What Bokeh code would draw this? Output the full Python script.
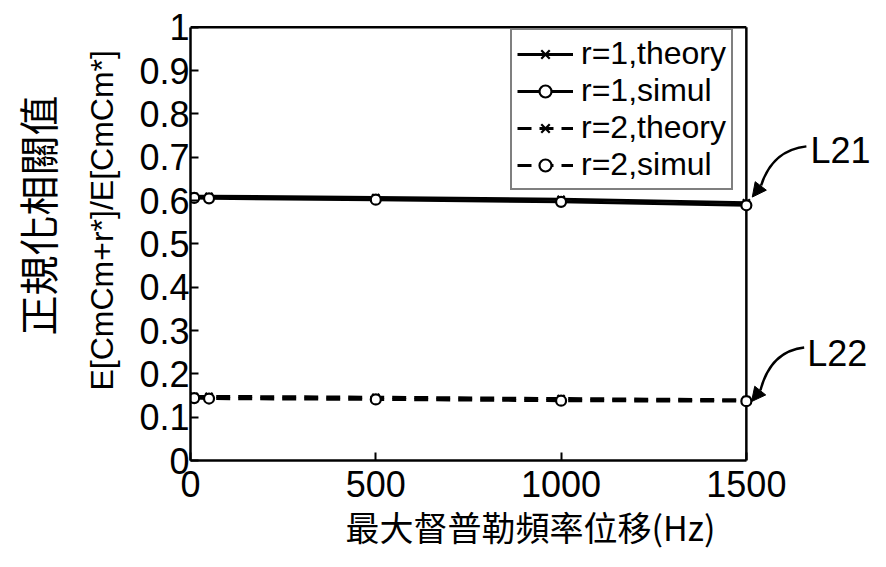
from bokeh.plotting import figure
from bokeh.models import (Range1d, FixedTicker, CustomJSTickFormatter, Legend,
                          LegendItem, Title, Label, Arrow, NormalHead)
from bokeh.embed import file_html
from bokeh.resources import INLINE

# ---------------- data ----------------
doppler_hz = [10, 50, 500, 1000, 1500]
r1_theory = [0.610, 0.610, 0.607, 0.603, 0.595]
r1_simul = [0.606, 0.605, 0.602, 0.597, 0.589]
r2_theory = [0.148, 0.148, 0.146, 0.143, 0.140]
r2_simul = [0.144, 0.143, 0.141, 0.138, 0.137]
series_labels = ["r=1,theory", "r=1,simul", "r=2,theory", "r=2,simul"]
x_ticks = [0, 500, 1000, 1500]
y_ticks = [0.0, 0.1, 0.2, 0.3, 0.4, 0.5, 0.6, 0.7, 0.8, 0.9, 1.0]
x_title = "最大督普勒頻率位移(Hz)"
y_title_cn = "正規化相關值"
y_title_expr = "E[CmCm+r*]/E[CmCm*]"
callout_texts = ["L21", "L22"]

# ---------------- layout / style ----------------
W, H = 878, 559
FONT = "Liberation Sans"
CJK = "Noto Sans CJK TC"
LW = 2.5

p = figure(width=W, height=H, output_backend="svg", toolbar_location=None,
           x_range=Range1d(0, 1835), y_range=Range1d(0, 1.004),
           min_border_left=190, min_border_right=8, min_border_top=25,
           min_border_bottom=99)
p.outline_line_color = None
p.grid.visible = False
p.background_fill_color = "white"
p.border_fill_color = "white"

# frame (top and right edges of the data box)
p.segment(x0=[x_ticks[0], x_ticks[-1]], y0=[y_ticks[-1], y_ticks[0]],
          x1=[x_ticks[-1], x_ticks[-1]], y1=[y_ticks[-1], y_ticks[-1]],
          line_color="black", line_width=LW)

# axes
xa = p.xaxis[0]
xa.ticker = FixedTicker(ticks=x_ticks)
xa.bounds = (x_ticks[0], x_ticks[-1])
ya = p.yaxis[0]
ya.ticker = FixedTicker(ticks=y_ticks)
ya.bounds = (y_ticks[0], y_ticks[-1])
ya.formatter = CustomJSTickFormatter(code="return tick.toFixed(1).replace(/\\.0$/, '');")
for ax in (xa, ya):
    ax.axis_line_width = LW
    ax.axis_line_color = "black"
    ax.major_tick_in = 8
    ax.major_tick_out = 0
    ax.major_tick_line_width = 2
    ax.minor_tick_in = 0
    ax.minor_tick_out = 0
    ax.major_label_text_font = FONT
    ax.major_label_text_font_size = "36px"
    ax.major_label_text_color = "black"
xa.major_label_standoff = 10
ya.major_label_standoff = 1
xa.axis_label = x_title
xa.axis_label_text_font = CJK
xa.axis_label_text_font_size = "34px"
xa.axis_label_text_font_style = "normal"
xa.axis_label_text_color = "black"
xa.axis_label_standoff = 2

p.add_layout(Title(text=y_title_expr, align="left", offset=70, standoff=33,
                   text_font=FONT, text_font_size="32px",
                   text_font_style="normal", text_color="black"), "left")
p.add_layout(Title(text=y_title_cn, align="left", offset=125, standoff=0,
                   text_font=CJK, text_font_size="40px",
                   text_font_style="normal", text_color="black"), "left")

# series
series = [
    (r1_theory, "solid", "x"),
    (r1_simul, "solid", "circle"),
    (r2_theory, "14 8", "x"),
    (r2_simul, "14 8", "circle"),
]
items = []
for (vals, dash, marker), lab in zip(series, series_labels):
    ln = p.line(doppler_hz, vals, line_color="black", line_width=3, line_dash=dash)
    sc = p.scatter(doppler_hz, vals, marker=marker, size=10, line_color="black",
                   fill_color="white", line_width=2.2)
    items.append(LegendItem(label=lab, renderers=[ln, sc]))

legend = Legend(items=items, location=(320, 270))
legend.border_line_color = "black"
legend.border_line_width = LW
legend.background_fill_alpha = 1
legend.label_text_font = FONT
legend.label_text_font_size = "32px"
legend.label_text_color = "black"
legend.glyph_width = 56
legend.glyph_height = 30
legend.label_height = 30
legend.spacing = 0
legend.padding = 5
legend.margin = 0
legend.label_standoff = 8
p.add_layout(legend)

# callouts (layout positions in data units)
callout_text_pos = [(1673, 0.715), (1664, 0.247)]
callout_curve = [
    # x0, y0, cx, cy, x1, y1
    (1662, 0.725, 1570, 0.716, 1540, 0.635),
    (1656, 0.261, 1565, 0.252, 1538, 0.162),
]
callout_tip = [(1516, 0.608), (1514, 0.136)]
for txt, (tx, ty), (x0, y0, cx, cy, x1, y1), (hx, hy) in zip(
        callout_texts, callout_text_pos, callout_curve, callout_tip):
    p.add_layout(Label(x=tx, y=ty, text=txt, text_font=FONT, text_font_size="36px",
                       text_baseline="middle", text_align="left", text_color="black"))
    p.quadratic(x0=[x0], y0=[y0], cx=[cx], cy=[cy], x1=[x1], y1=[y1],
                line_color="black", line_width=LW)
    p.add_layout(Arrow(end=NormalHead(size=14, fill_color="black", line_color="black"),
                       x_start=x1, y_start=y1, x_end=hx, y_end=hy,
                       line_color="black", line_width=LW))

open("out.html", "w").write(file_html(p, INLINE))
